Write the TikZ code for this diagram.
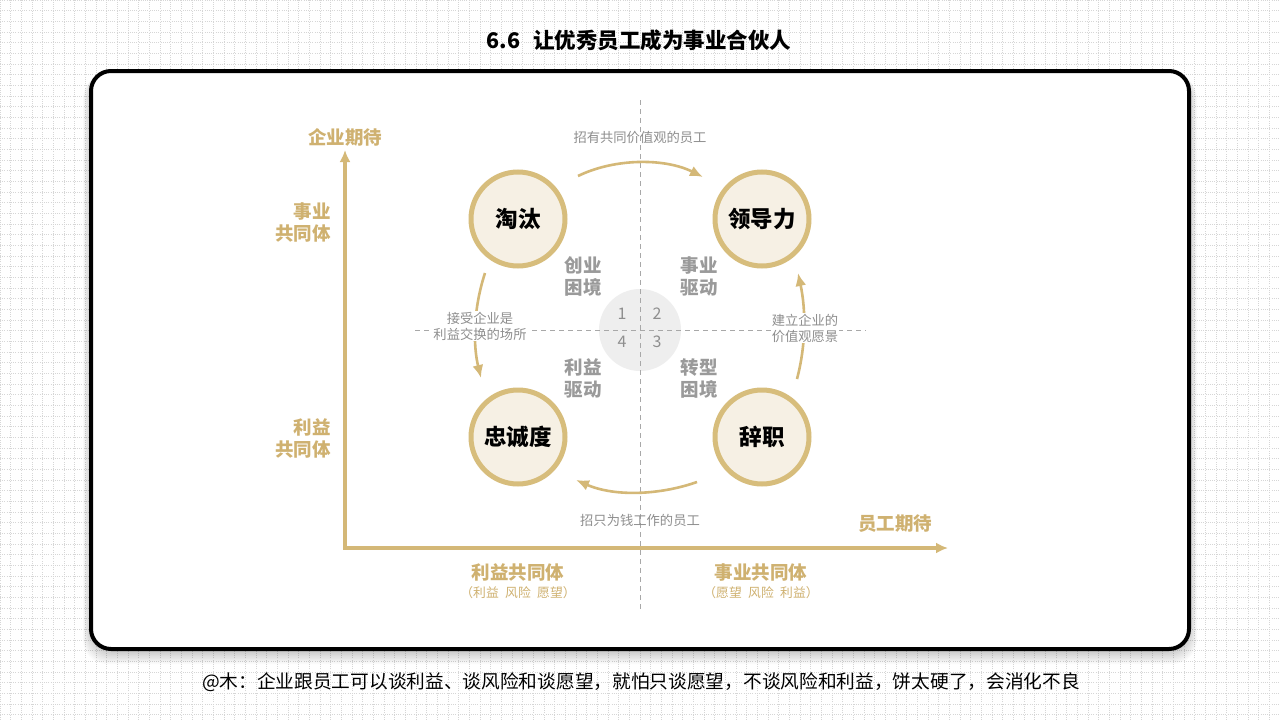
\documentclass[tikz,border=0pt]{standalone}
\usepackage{fontspec}
\setmainfont{Noto Sans CJK SC}
\usetikzlibrary{arrows.meta}
\definecolor{gold}{HTML}{D4B877}
\definecolor{goldtxt}{HTML}{CFB170}
\definecolor{ringc}{HTML}{D7BD7C}
\definecolor{ringfill}{HTML}{F6F0E4}
\definecolor{graytxt}{HTML}{8E8E8E}
\definecolor{quadtxt}{HTML}{9A9A9A}
\definecolor{dashc}{HTML}{A8A8A8}
\definecolor{centerc}{HTML}{EEEEEE}
\definecolor{gridc}{HTML}{D6D6D6}
\newcommand{\fs}[1]{\fontsize{#1}{#1}\selectfont}
\tikzset{
  ring/.style={circle, draw=ringc, line width=5pt, fill=ringfill, minimum size=94pt, inner sep=0pt, font=\fs{22.5}\bfseries, text=black},
  axislabel/.style={text=goldtxt, font=\fs{18.5}\bfseries, inner sep=0pt, align=center},
  sidelabel/.style={text=goldtxt, font=\fs{18.5}\bfseries, inner sep=0pt, align=right, execute at begin node=\setlength{\baselineskip}{22pt}},
  quadlabel/.style={text=quadtxt, font=\fs{18.5}\bfseries, inner sep=0pt, align=center, execute at begin node=\setlength{\baselineskip}{22pt}},
  smalllabel/.style={text=graytxt, font=\fs{13.3}, inner sep=0pt, align=center, execute at begin node=\setlength{\baselineskip}{16pt}},
  numlabel/.style={text=graytxt, font=\fs{16}, inner sep=0pt},
  flow/.style={draw=gold, line width=2.6pt, -{Latex[length=13pt,width=11pt]}},
  axisline/.style={draw=gold, line width=3.6pt, -{Latex[length=12pt,width=11pt]}},
  divider/.style={draw=dashc, line width=1pt, dash pattern=on 5pt off 4pt},
}
\begin{document}
\begin{tikzpicture}[x=1pt,y=-1pt]
\useasboundingbox (0,0) rectangle (1280,720);
\fill[white] (0,0) rectangle (1280,720);
\draw[gridc, line width=0.7pt, dash pattern=on 1pt off 1.2pt, step=10.667pt] (0,0) grid (1280,720);
% card shadow
\foreach \i in {1,...,10}{
  \fill[black, opacity=0.02, rounded corners=24pt] (91-\i*0.8, 71+\i*0.3) rectangle (1189+\i*0.8, 651+\i*1.3);
}
% card
\draw[black, line width=4pt, fill=white, rounded corners=20pt] (91,71) rectangle (1189,649);
% title
\node[font=\fs{21.5}\bfseries, inner sep=0pt] (title) at (639,40) {6.6\hspace{0.6em}让优秀员工成为事业合伙人};
% caption
\node[font=\fs{18.7}, inner sep=0pt] (caption) at (641,682) {@木：企业跟员工可以谈利益、谈风险和谈愿望，就怕只谈愿望，不谈风险和利益，饼太硬了，会消化不良};
% dividers
\coordinate (vtop) at (640,100);
\coordinate (vbot) at (640,610);
\coordinate (hl) at (415,330);
\coordinate (hr) at (866,330);
\fill[centerc] (640,330) circle (41pt);
\draw[divider] (vtop) -- (vbot);
\draw[divider] (hl) -- (hr);
\node[numlabel] (n1) at (622,314) {1};
\node[numlabel] (n2) at (657,314) {2};
\node[numlabel] (n4) at (622,342) {4};
\node[numlabel] (n3) at (657,342) {3};
% axes
\coordinate (origin) at (345,548);
\coordinate (ytip) at (345,150);
\coordinate (xtip) at (948,548);
\draw[axisline] (origin) -- (ytip);
\draw[axisline] ([xshift=-1.8pt]origin) -- (xtip);
\node[axislabel] (ylab) at (345,137) {企业期待};
\node[axislabel] (xlab) at (895,524) {员工期待};
\node[sidelabel, anchor=east] (ys1) at (331,222) {事业\\共同体};
\node[sidelabel, anchor=east] (ys2) at (331,438) {利益\\共同体};
\node[axislabel] (xs1) at (518,572) {利益共同体};
\node[text=goldtxt, font=\fs{12.8}, inner sep=0pt] (xs1b) at (518,593) {（利益\hspace{0.5em}风险\hspace{0.5em}愿望）};
\node[axislabel] (xs2) at (761,572) {事业共同体};
\node[text=goldtxt, font=\fs{12.8}, inner sep=0pt] (xs2b) at (761,593) {（愿望\hspace{0.5em}风险\hspace{0.5em}利益）};
% rings
\node[ring] (taotai) at (518,219) {淘汰};
\node[ring] (lingdao) at (762,219) {领导力};
\node[ring] (zhongcheng) at (518,437) {忠诚度};
\node[ring] (cizhi) at (762,437) {辞职};
% quadrant labels
\node[quadlabel] (q1) at (583,276) {创业\\困境};
\node[quadlabel] (q2) at (699,276) {事业\\驱动};
\node[quadlabel] (q4) at (583,378) {利益\\驱动};
\node[quadlabel] (q3) at (699,378) {转型\\困境};
% flows
\coordinate (a1) at (578,176);
\coordinate (a2) at (703,177);
\draw[flow] (a1) .. controls (615,158) and (665,158) .. (a2);
\coordinate (b1) at (797,379);
\coordinate (b2) at (798,273);
\draw[flow] (b1) .. controls (806,345) and (806,310) .. (b2);
\coordinate (c1) at (697,482);
\coordinate (c2) at (576,480);
\draw[flow] (c1) .. controls (660,495) and (615,497) .. (c2);
\coordinate (d1) at (485,273);
\coordinate (d2) at (481,378);
\draw[flow] (d1) .. controls (473,310) and (473,345) .. (d2);
% flow labels
\node[smalllabel] (ft) at (640,137) {招有共同价值观的员工};
\node[smalllabel] (fb) at (640,520) {招只为钱工作的员工};
\node[smalllabel, fill=white, inner sep=1pt] (fl) at (480,326) {接受企业是\\利益交换的场所};
\node[smalllabel, fill=white, inner sep=1pt] (fr) at (805,328) {建立企业的\\价值观愿景};
\end{tikzpicture}
\end{document}
